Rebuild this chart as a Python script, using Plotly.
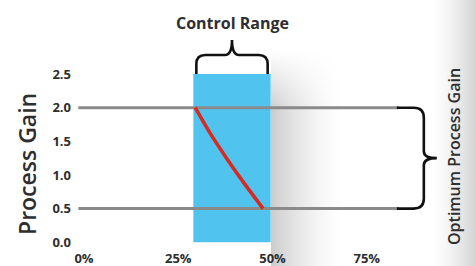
import base64
import struct
import zlib

import plotly.graph_objects as go

# ---- data ----
x_ticks = [0, 25, 50, 75]
x_tick_labels = ["0%", "25%", "50%", "75%"]
y_ticks = [0.0, 0.5, 1.0, 1.5, 2.0, 2.5]
y_tick_labels = ["0.0", "0.5", "1.0", "1.5", "2.0", "2.5"]
control_range = [29.0, 49.5]
control_top = 2.5
optimum_gain = [0.5, 2.0]
gain_line_x = [-1.5, 83.5]
curve_x = [29.5, 33.4, 37.8, 42.5, 47.5]
curve_y = [2.0, 1.625, 1.25, 0.875, 0.5]

# ---- layout geometry ----
W, H = 475, 266
ML, MR, MT, MB = 75, 0, 21, 17
XR = [-2.39, 103.7]
YR = [-0.1, 3.288]
pw, ph = W - ML - MR, H - MT - MB
sx = pw / (XR[1] - XR[0])
sy = ph / (YR[1] - YR[0])


def X(v):
    return ML + (v - XR[0]) * sx


def Y(v):
    return MT + (YR[1] - v) * sy


def dx(p):
    return XR[0] + (p - ML) / sx


def dy(p):
    return YR[1] - (p - MT) / sy


def px_x(p):
    return (p - ML) / pw


def px_y(p):
    return (H - MB - p) / ph


def path(cmds):
    out = []
    for c, pts in cmds:
        s = c
        for i in range(0, len(pts), 2):
            s += f" {dx(pts[i]):.4f},{dy(pts[i+1]):.4f}"
        out.append(s)
    return " ".join(out)


# ---- smooth background (shadow beside the box + grey right edge) ----
xs = X(control_range[1])


def shade(px, py):
    s = 0.0
    t = (px - xs) / 72.0
    if 0 <= t < 1:
        v = min(max((py - 50) / 60.0, 0.0), 1.0)
        s += 0.2 * (1 - t) ** 1.5 * v
    if px > 432:
        s += 0.17 * ((px - 432) / 43.0) ** 1.4
    return int(round(255 * (1 - s)))


rows = b""
for py in range(H):
    row = bytearray([0])
    for px in range(W):
        g = shade(px, py)
        row += bytes([g, g, g])
    rows += bytes(row)


def chunk(tag, data):
    return struct.pack(">I", len(data)) + tag + data + struct.pack(">I", zlib.crc32(tag + data) & 0xffffffff)


png = (b"\x89PNG\r\n\x1a\n" + chunk(b"IHDR", struct.pack(">IIBBBBB", W, H, 8, 2, 0, 0, 0))
       + chunk(b"IDAT", zlib.compress(rows, 9)) + chunk(b"IEND", b""))
bg_src = "data:image/png;base64," + base64.b64encode(png).decode()

font_family = "Open Sans, Arial, sans-serif"
txt_color = "#2e2e2e"

shapes = []

# control range box
shapes.append(dict(type="rect", xref="x", yref="y",
                   x0=control_range[0], x1=control_range[1], y0=0, y1=control_top,
                   fillcolor="#50c3ef", line=dict(width=0), layer="below"))

# top brace
xL, xR = X(control_range[0]) + 3, X(control_range[1]) - 3
yb = Y(control_top)
yh = yb - 19
r = 9
yt = yh - 15
xm = (xL + xR) / 2
shapes.append(dict(type="path", xref="x", yref="y", line=dict(color="#111", width=2.6),
                   path=path([("M", [xL, yb]), ("L", [xL, yh + r]), ("Q", [xL, yh, xL + r, yh]),
                              ("L", [xm - 7, yh]), ("Q", [xm, yh, xm, yt]),
                              ("Q", [xm, yh, xm + 7, yh]), ("L", [xR - r, yh]),
                              ("Q", [xR, yh, xR, yh + r]), ("L", [xR, yb])])))

# right brace
xa = X(gain_line_x[1])
xv = xa + 25
yt2, yb2 = Y(optimum_gain[1]), Y(optimum_gain[0])
ym = (yt2 + yb2) / 2
r = 10
shapes.append(dict(type="path", xref="x", yref="y", line=dict(color="#111", width=2.6),
                   path=path([("M", [xa - 2, yt2]), ("L", [xv - r, yt2]), ("Q", [xv, yt2, xv, yt2 + r]),
                              ("L", [xv, ym - 7]), ("Q", [xv, ym, xv + 13, ym]),
                              ("Q", [xv, ym, xv, ym + 7]), ("L", [xv, yb2 - r]),
                              ("Q", [xv, yb2, xv - r, yb2]), ("L", [xa - 2, yb2])])))

fig = go.Figure()
for g in optimum_gain:
    fig.add_trace(go.Scatter(x=gain_line_x, y=[g, g], mode="lines",
                             line=dict(color="#8a8a8a", width=3), hoverinfo="skip"))
fig.add_trace(go.Scatter(x=curve_x, y=curve_y, mode="lines",
                         line=dict(color="#d92a1f", width=3.5, shape="spline", smoothing=0.8),
                         hoverinfo="skip"))

annotations = [
    dict(text="Control Range", x=sum(control_range) / 2, y=dy(23), xref="x", yref="y",
         showarrow=False, font=dict(family=font_family, size=16, color=txt_color, weight=700)),
    dict(text="Optimum Process Gain", x=dx(454), y=dy(157), xref="x", yref="y",
         xanchor="center", yanchor="middle",
         textangle=-90, showarrow=False,
         font=dict(family=font_family, size=16, color=txt_color, weight=600)),
    dict(text="Process Gain", x=px_x(27), y=dy(164), xref="paper", yref="y",
         xanchor="center", yanchor="middle",
         textangle=-90, showarrow=False,
         font=dict(family=font_family, size=23, color=txt_color, weight=600)),
]

fig.update_layout(
    width=W, height=H, margin=dict(l=ML, r=MR, t=MT, b=MB),
    paper_bgcolor="white", plot_bgcolor="rgba(0,0,0,0)",
    showlegend=False, shapes=shapes, annotations=annotations,
    images=[dict(source=bg_src, xref="paper", yref="paper",
                 x=px_x(0), y=px_y(0), sizex=W / pw, sizey=H / ph,
                 xanchor="left", yanchor="top", sizing="stretch", layer="below")],
    xaxis=dict(range=XR, tickvals=x_ticks, ticktext=x_tick_labels, showgrid=False,
               zeroline=False, showline=False, ticks="",
               tickfont=dict(family=font_family, size=13, color=txt_color, weight=700)),
    yaxis=dict(range=YR, tickvals=y_ticks, ticktext=y_tick_labels, showgrid=False,
               zeroline=False, showline=False, ticks="", ticklabelstandoff=3,
               tickfont=dict(family=font_family, size=13, color=txt_color, weight=700)),
)

fig.write_html("out.html", config={"displayModeBar": False},
               post_script="document.body.style.margin='0px';document.body.style.overflow='hidden';")
